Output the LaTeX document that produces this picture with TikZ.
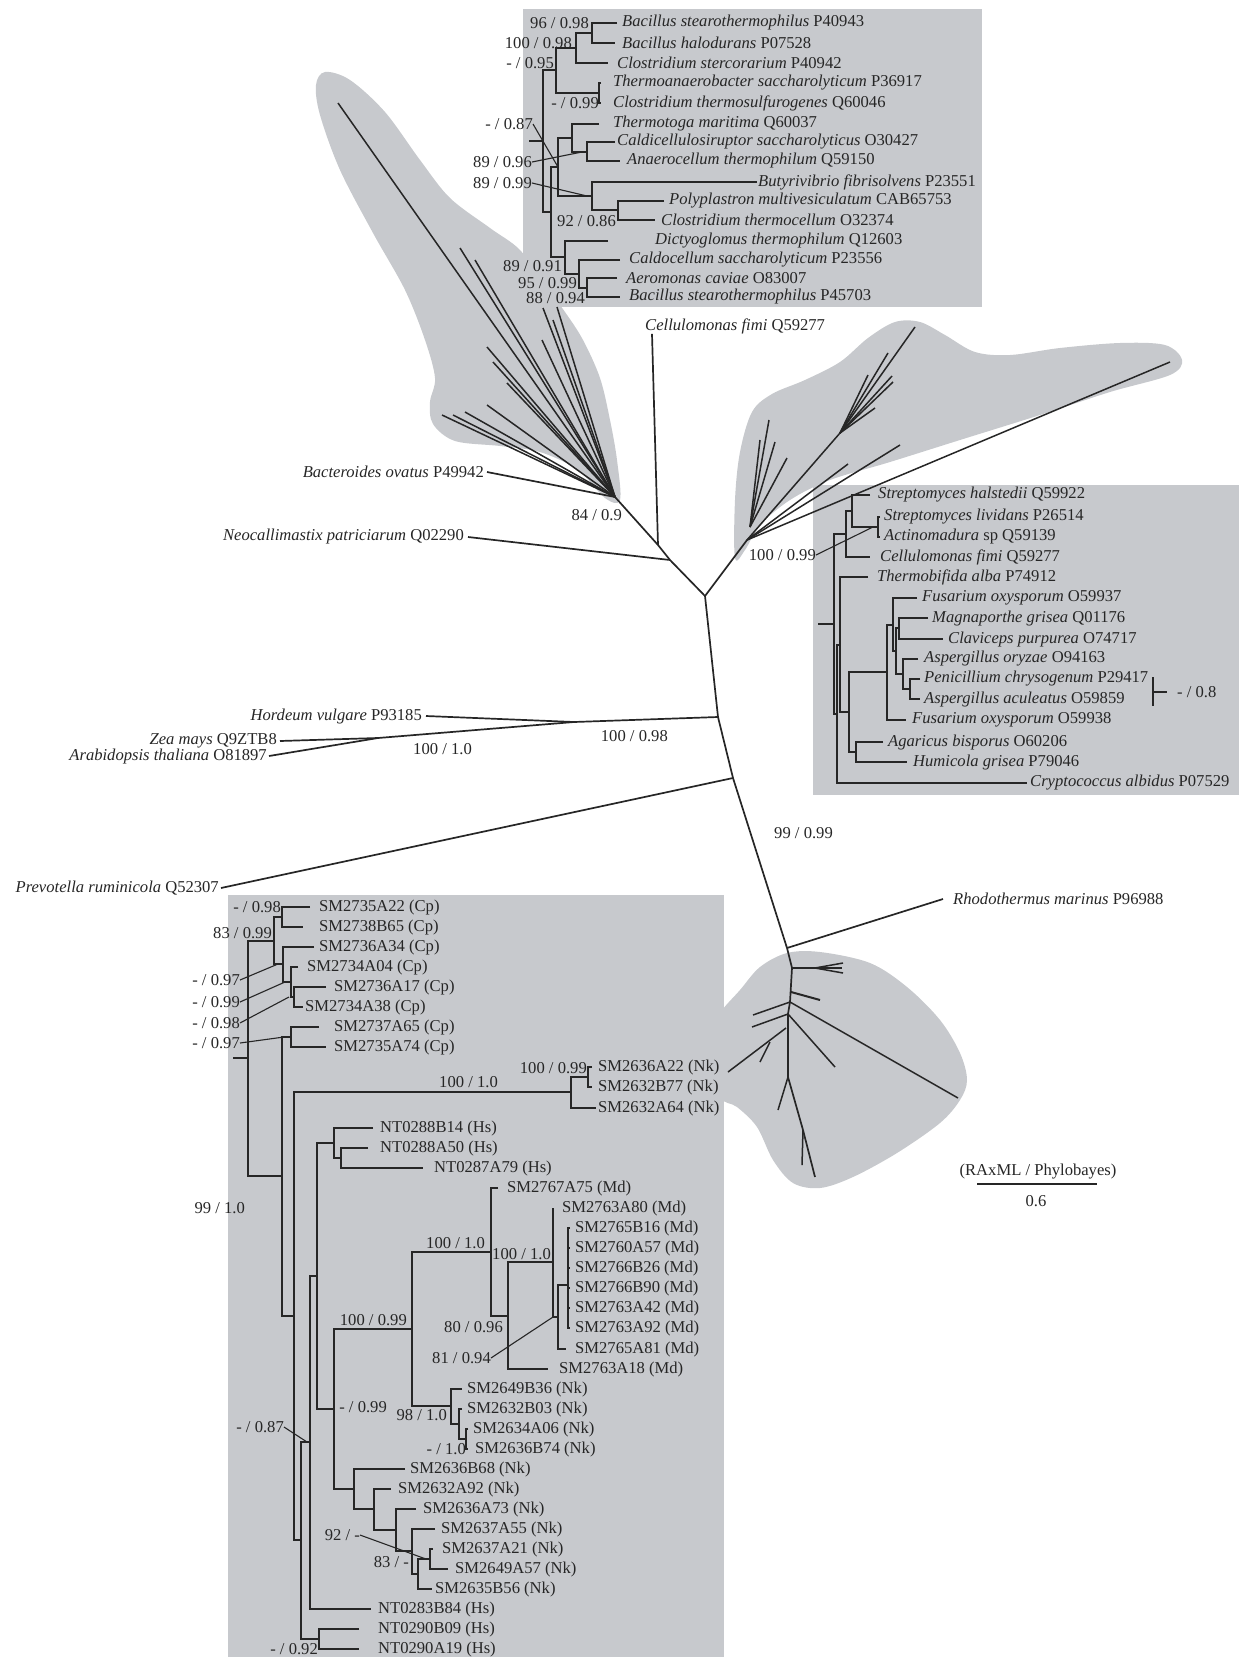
\documentclass[tikz,border=0pt]{standalone}
\usepackage{fontspec}
\setmainfont{Liberation Serif}
\definecolor{blob}{RGB}{199,201,205}
\definecolor{ink}{RGB}{38,38,38}
\newcommand{\taxon}[2]{\textit{#1} #2}
\begin{document}
\begin{tikzpicture}[x=1pt, y=-1pt,
  tax/.style={anchor=west, inner sep=0pt, text=ink, font=\fontsize{16.6}{18}\selectfont},
  bs/.style={anchor=east, inner sep=0pt, text=ink, font=\fontsize{16.6}{18}\selectfont},
  br/.style={draw=ink, line width=1.7pt},
  tr/.style={draw=ink, line width=1.3pt},
  ptr/.style={draw=ink, line width=1.1pt}
]
\useasboundingbox (0,0) rectangle (1239,1657);
% shaded clades
\fill[blob] plot[smooth cycle, tension=0.55] coordinates {(325,72) (350,80) (385,112) (420,160) (450,198) (490,228) (520,250) (545,285) (565,312) (583,340) (600,378) (610,420) (617,460) (620,500) (605,498) (578,470) (540,452) (500,446) (455,441) (433,424) (430,402) (435,378) (425,340) (405,290) (373,233) (340,170) (320,115) (316,85)};
\fill[blob] plot[smooth cycle, tension=0.55] coordinates {(735,558) (735,500) (740,452) (752,412) (772,394) (805,380) (840,362) (868,338) (895,322) (920,322) (945,335) (975,352) (1010,355) (1060,348) (1120,343) (1165,345) (1182,360) (1170,375) (1110,392) (1040,415) (960,440) (890,462) (830,480) (790,500) (760,525) (745,550)};
\fill[blob] plot[smooth cycle, tension=0.55] coordinates {(716,1030) (720,1013) (740,990) (760,967) (787,953) (820,952) (870,963) (907,987) (940,1020) (960,1053) (967,1080) (960,1100) (940,1123) (897,1153) (853,1177) (820,1188) (793,1183) (773,1160) (757,1127) (737,1107) (720,1097) (715,1060)};
\fill[blob] (523,9) rectangle (982,307);
\fill[blob] (813,485) rectangle (1239,795);
\fill[blob] (228,895) rectangle (724,1657);

% main tree
\coordinate (mfan) at (615,497);
\coordinate (mcel) at (658,545);
\coordinate (mneo) at (670,560);
\coordinate (mv) at (705,596);
\coordinate (mrf) at (747,540);
\coordinate (mhor) at (718,717);
\coordinate (mpre) at (733,778);
\coordinate (mrho) at (787,948);
\coordinate (mpla) at (574,722);
\coordinate (mzea) at (378,738);
\coordinate (mb1) at (792,968);
\coordinate (mb2) at (790,1002);
\coordinate (mb3) at (788,1014);
\coordinate (mb4) at (788,1077);
\coordinate (mb5) at (803,1130);
\coordinate (mb6) at (815,1177);
\draw[br] (mfan) -- (mcel) -- (mneo) -- (mv) -- (mrf);
\draw[br] (mv) -- (mhor) -- (mpre) -- (mrho) -- (mb1) -- (mb2) -- (mb3) -- (mb4) -- (mb5) -- (mb6);
\node[tax, anchor=east] (bov) at (484,472) {\taxon{Bacteroides ovatus}{P49942}};
\node[tax, anchor=east] (neo) at (464,537) {\taxon{Neocallimastix patriciarum}{Q02290}};
\node[tax, anchor=east] (hor) at (422,716) {\taxon{Hordeum vulgare}{P93185}};
\node[tax, anchor=east] (zea) at (277,741) {\taxon{Zea mays}{Q9ZTB8}};
\node[tax, anchor=east] (ara) at (267,756) {\taxon{Arabidopsis thaliana}{O81897}};
\node[tax, anchor=east] (pre) at (219,888) {\taxon{Prevotella ruminicola}{Q52307}};
\node[tax] (rho) at (953,899) {\taxon{Rhodothermus marinus}{P96988}};
\node[tax] (cfm) at (645,326) {\taxon{Cellulomonas fimi}{Q59277}};
\draw[br] ([xshift=3]bov.east) -- (mfan);
\draw[br] ([xshift=4]neo.east) -- (mneo);
\draw[br] ([xshift=4]hor.east) -- (mpla) -- (mhor);
\draw[br] ([xshift=3]zea.east) -- (mzea) -- (mpla);
\draw[br] ([xshift=2]ara.east) -- (mzea);
\draw[br] ([xshift=2]pre.east) -- (mpre);
\draw[br] (mrho) -- ([xshift=-10]rho.west);
\draw[br] (mcel) -- ([xshift=7]cfm.south west);
% collapsed fans
\foreach \px/\py in {338/103, 460/248, 475/260, 543/308, 557/307, 553/320, 542/340, 487/347, 493/362, 507/383, 487/405, 465/412, 453/415, 442/415}
  \draw[br, line width=1.5pt] (mfan) -- (\px,\py);
\draw[br, line width=1.5pt] (mrf) -- (1170,362);
\draw[br, line width=1.5pt] (mrf) -- (900,445);
\draw[br, line width=1.5pt] (mrf) -- (848,464);
\draw[br, line width=1.5pt] (mrf) -- (840,433) -- (915,327);
\foreach \px/\py in {875/408, 893/382, 892/376, 888/353, 868/375}
  \draw[br, line width=1.5pt] (840,433) -- (\px,\py);
\foreach \px/\py in {769/420, 760/440, 775/442, 787/458}
  \draw[br, line width=1.5pt] (750,527) -- (\px,\py);
\draw[br, line width=1.5pt] (mb1) -- (842,968);
\draw[br, line width=1.5pt] (815,968) -- (843,963);
\draw[br, line width=1.5pt] (815,968) -- (843,973);
\draw[br, line width=2pt] (791,992) -- (820,1000);
\draw[br, line width=1.5pt] (mb2) -- (753,1015);
\draw[br, line width=1.5pt] (mb3) -- (752,1027);
\draw[br, line width=1.5pt] (mb2) -- (958,1098);
\draw[br, line width=1.5pt] (mb3) -- (835,1067);
\draw[br, line width=1.5pt] (786,1028) -- (728,1072);
\draw[br, line width=1.5pt] (770,1042) -- (760,1062);
\draw[br, line width=1.5pt] (mb4) -- (778,1110);
\draw[br, line width=1.5pt] (mb5) -- (802,1165);

% leaves: name/x/y/gap/text
\foreach \nm/\xx/\yy/\gp/\lbl in {L1/622/23/5/{\taxon{Bacillus stearothermophilus}{P40943}},
  L2/622/43/7/{\taxon{Bacillus halodurans}{P07528}},
  L3/617/63/9/{\taxon{Clostridium stercorarium}{P40942}},
  L4/613/83/12/{\taxon{Thermoanaerobacter saccharolyticum}{P36917}},
  L5/613/103/12/{\taxon{Clostridium thermosulfurogenes}{Q60046}},
  L6/613/124/14/{\taxon{Thermotoga maritima}{Q60037}},
  L7/617/142/2/{\taxon{Caldicellulosiruptor saccharolyticus}{O30427}},
  L8/627/161/7/{\taxon{Anaerocellum thermophilum}{Q59150}},
  L9/758/182/1/{\taxon{Butyrivibrio fibrisolvens}{P23551}},
  L10/669/201/5/{\taxon{Polyplastron multivesiculatum}{CAB65753}},
  L11/661/220/6/{\taxon{Clostridium thermocellum}{O32374}},
  L12/655/241/47/{\taxon{Dictyoglomus thermophilum}{Q12603}},
  L13/629/260/9/{\taxon{Caldocellum saccharolyticum}{P23556}},
  L14/626/278/9/{\taxon{Aeromonas caviae}{O83007}},
  L15/629/297/9/{\taxon{Bacillus stearothermophilus}{P45703}},
  R1/878/495/8/{\taxon{Streptomyces halstedii}{Q59922}},
  R2/884/517/4/{\taxon{Streptomyces lividans}{P26514}},
  R3/884/537/4/{\taxon{Actinomadura}{sp Q59139}},
  R4/880/557/10/{\taxon{Cellulomonas fimi}{Q59277}},
  R5/877/577/9/{\taxon{Thermobifida alba}{P74912}},
  R6/922/598/5/{\taxon{Fusarium oxysporum}{O59937}},
  R7/932/618/4/{\taxon{Magnaporthe grisea}{Q01176}},
  R8/948/639/5/{\taxon{Claviceps purpurea}{O74717}},
  R9/924/659/6/{\taxon{Aspergillus oryzae}{O94163}},
  R10/924/679/4/{\taxon{Penicillium chrysogenum}{P29417}},
  R11/924/699/4/{\taxon{Aspergillus aculeatus}{O59859}},
  R12/912/720/6/{\taxon{Fusarium oxysporum}{O59938}},
  R13/888/742/5/{\taxon{Agaricus bisporus}{O60206}},
  R14/913/762/6/{\taxon{Humicola grisea}{P79046}},
  R15/1030/783/3/{\taxon{Cryptococcus albidus}{P07529}},
  S1/319/907/9/{SM2735A22 (Cp)}, S2/319/927/16/{SM2738B65 (Cp)},
  S3/319/947/5/{SM2736A34 (Cp)}, S4/307/967/9/{SM2734A04 (Cp)},
  S5/334/987/8/{SM2736A17 (Cp)}, S6/305/1007/2/{SM2734A38 (Cp)},
  S7/334/1027/15/{SM2737A65 (Cp)}, S8/334/1047/8/{SM2735A74 (Cp)},
  S9/598/1067/6/{SM2636A22 (Nk)}, S10/598/1087/6/{SM2632B77 (Nk)},
  S11/598/1108/2/{SM2632A64 (Nk)}, S12/380/1128/7/{NT0288B14 (Hs)},
  S13/380/1148/12/{NT0288A50 (Hs)}, S14/434/1168/11/{NT0287A79 (Hs)},
  S15/507/1188/9/{SM2767A75 (Md)}, S16/562/1208/9/{SM2763A80 (Md)},
  S17/575/1228/5/{SM2765B16 (Md)}, S18/575/1248/5/{SM2760A57 (Md)},
  S19/575/1268/5/{SM2766B26 (Md)}, S20/575/1288/5/{SM2766B90 (Md)},
  S21/575/1308/5/{SM2763A42 (Md)}, S22/575/1328/5/{SM2763A92 (Md)},
  S23/575/1349/9/{SM2765A81 (Md)}, S24/559/1369/11/{SM2763A18 (Md)},
  S25/467/1389/5/{SM2649B36 (Nk)}, S26/467/1409/5/{SM2632B03 (Nk)},
  S27/473/1429/5/{SM2634A06 (Nk)}, S28/475/1449/7/{SM2636B74 (Nk)},
  S29/410/1469/5/{SM2636B68 (Nk)}, S30/398/1489/7/{SM2632A92 (Nk)},
  S31/423/1509/7/{SM2636A73 (Nk)}, S32/441/1529/6/{SM2637A55 (Nk)},
  S33/442/1549/9/{SM2637A21 (Nk)}, S34/455/1569/7/{SM2649A57 (Nk)},
  S35/435/1589/3/{SM2635B56 (Nk)}, S36/378/1609/7/{NT0283B84 (Hs)},
  S37/378/1629/19/{NT0290B09 (Hs)}, S38/378/1649/19/{NT0290A19 (Hs)}}{
  \node[tax] (\nm) at (\xx,\yy) {\lbl};
  \coordinate (\nm-t) at ({\xx-\gp},\yy);
}

% top box clades
\coordinate (a0) at (529,141);
\coordinate (a1) at (592,33);
\coordinate (a2) at (576,48);
\coordinate (a3) at (599,93);
\coordinate (a4) at (556,70);
\coordinate (a5) at (587,152);
\coordinate (a6) at (572,138);
\coordinate (a7) at (618,210);
\coordinate (a8) at (592,196);
\coordinate (a9) at (558,167);
\coordinate (a10) at (587,288);
\coordinate (a11) at (579,274);
\coordinate (a12) at (565,257);
\coordinate (a13) at (551,212);
\coordinate (a14) at (543,141);
\draw[tr] (L1-t) -| (a1) |- (L2-t);
\draw[tr] (a1) -| (a2) |- (L3-t);
\draw[tr] (L4-t) -| (a3) |- (L5-t);
\draw[tr] (a2) -| (a4) |- (a3);
\draw[tr] (L7-t) -| (a5) |- (L8-t);
\draw[tr] (L6-t) -| (a6) |- (a5);
\draw[tr] (L10-t) -| (a7) |- (L11-t);
\draw[tr] (L9-t) -| (a8) |- (a7);
\draw[tr] (a6) -| (a9) |- (a8);
\draw[tr] (L14-t) -| (a10) |- (L15-t);
\draw[tr] (L13-t) -| (a11) |- (a10);
\draw[tr] (L12-t) -| (a12) |- (a11);
\draw[tr] (a9) -| (a13) |- (a12);
\draw[tr] (a4) -| (a14) |- (a13);
\draw[tr] (a0) -- (a14);

% right box clades
\coordinate (q0) at (818,624);
\coordinate (qA) at (878,527);
\coordinate (qB) at (852,511);
\coordinate (qC) at (846,534);
\coordinate (qD) at (834,624);
\coordinate (qE) at (837,714);
\coordinate (qF) at (840,645);
\coordinate (qG) at (849,712);
\coordinate (qH) at (887,672);
\coordinate (qI) at (856,752);
\coordinate (qJ) at (893,625);
\coordinate (qK) at (896,651);
\coordinate (qL) at (899,628);
\coordinate (qM) at (903,674);
\coordinate (qN) at (910,689);
\draw[tr] (R2-t) -| (qA) |- (R3-t);
\draw[tr] (R1-t) -| (qB) |- (qA);
\draw[tr] (qB) -| (qC) |- (R4-t);
\draw[tr] (R7-t) -| (qL) |- (R8-t);
\draw[tr] (R10-t) -| (qN) |- (R11-t);
\draw[tr] (R9-t) -| (qM) |- (qN);
\draw[tr] (qL) -| (qK) |- (qM);
\draw[tr] (R6-t) -| (qJ) |- (qK);
\draw[tr] (qJ) -| (qH) |- (R12-t);
\draw[tr] (R13-t) -| (qI) |- (R14-t);
\draw[tr] (qH) -| (qG) |- (qI);
\draw[tr] (R5-t) -| (qF) |- (qG);
\draw[tr] (qF) -| (qE) |- (R15-t);
\draw[tr] (qC) -| (qD) |- (qE);
\draw[tr] (q0) -- (qD);

% SM box clades
\coordinate (s0) at (233,1058);
\coordinate (sa) at (282,917);
\coordinate (sb) at (274,941);
\coordinate (sc) at (283,964);
\coordinate (sd) at (291,982);
\coordinate (se) at (294,997);
\coordinate (sf) at (291,1037);
\coordinate (sg) at (282,1176);
\coordinate (sh) at (248,1058);
\coordinate (si) at (294,1316);
\coordinate (sj) at (301,1540);
\coordinate (sk) at (310,1442);
\coordinate (sl) at (319,1639);
\coordinate (sm) at (317,1276);
\coordinate (sn) at (334,1409);
\coordinate (so) at (334,1143);
\coordinate (sp) at (341,1158);
\coordinate (sq) at (412,1329);
\coordinate (sr) at (491,1252);
\coordinate (ss) at (508,1316);
\coordinate (st) at (553,1262);
\coordinate (su) at (558,1317);
\coordinate (sv) at (568,1285);
\coordinate (sw) at (451,1406);
\coordinate (sx) at (459,1424);
\coordinate (sy) at (466,1439);
\coordinate (sz) at (354,1489);
\coordinate (saa) at (374,1509);
\coordinate (sab) at (396,1530);
\coordinate (sac) at (412,1551);
\coordinate (sad) at (418,1574);
\coordinate (sae) at (430,1559);
\coordinate (saf) at (571,1092);
\coordinate (sag) at (588,1077);
\draw[tr] (S1-t) -| (sa) |- (S2-t);
\draw[tr] (S5-t) -| (se) |- (S6-t);
\draw[tr] (S4-t) -| (sd) |- (se);
\draw[tr] (S3-t) -| (sc) |- (sd);
\draw[tr] (sa) -| (sb) |- (sc);
\draw[tr] (S7-t) -| (sf) |- (S8-t);
\draw[tr] (S9-t) -| (sag) |- (S10-t);
\draw[tr] (sag) -| (saf) |- (S11-t);
\draw[tr] (S13-t) -| (sp) |- (S14-t);
\draw[tr] (S12-t) -| (so) |- (sp);
\draw[tr] (S17-t) -| (sv) |- (S22-t);
\foreach \k in {18,...,21}
  \draw[tr] (sv |- S\k-t) -- (S\k-t);
\draw[tr] (sv) -| (su) |- (S23-t);
\draw[tr] (S16-t) -| (st) |- (su);
\draw[tr] (st) -| (ss) |- (S24-t);
\draw[tr] (S15-t) -| (sr) |- (ss);
\draw[tr] (S27-t) -| (sy) |- (S28-t);
\draw[tr] (S26-t) -| (sx) |- (sy);
\draw[tr] (S25-t) -| (sw) |- (sx);
\draw[tr] (sr) -| (sq) |- (sw);
\draw[tr] (S33-t) -| (sae) |- (S34-t);
\draw[tr] (sae) -| (sad) |- (S35-t);
\draw[tr] (S32-t) -| (sac) |- (sad);
\draw[tr] (S31-t) -| (sab) |- (sac);
\draw[tr] (S30-t) -| (saa) |- (sab);
\draw[tr] (S29-t) -| (sz) |- (saa);
\draw[tr] (sq) -| (sn) |- (sz);
\draw[tr] (so) -| (sm) |- (sn);
\draw[tr] (sm) -| (sk) |- (S36-t);
\draw[tr] (S37-t) -| (sl) |- (S38-t);
\draw[tr] (sk) -| (sj) |- (sl);
\draw[tr] (saf) -| (si) |- (sj);
\draw[tr] (sf) -| (sg) |- (si);
\draw[tr] (sb) -| (sh) |- (sg);
\draw[tr] (s0) -- (sh);

% support values (RAxML / Phylobayes)
\foreach \nm/\xx/\yy/\lbl in {k1/589/23/{96 / 0.98}, k2/572/43/{100 / 0.98}, k3/554/63/{- / 0.95},
  k4/599/103/{- / 0.99}, k5/533/124/{- / 0.87}, k6/532/162/{89 / 0.96},
  k7/532/183/{89 / 0.99}, k8/616/221/{92 / 0.86}, k9/562/266/{89 / 0.91},
  k10/577/283/{95 / 0.99}, k11/585/298/{88 / 0.94}, k12/816/555/{100 / 0.99},
  k13/281/907/{- / 0.98}, k14/272/933/{83 / 0.99}, k15/240/980/{- / 0.97},
  k16/240/1002/{- / 0.99}, k17/240/1023/{- / 0.98}, k18/240/1043/{- / 0.97},
  k19/245/1208/{99 / 1.0}, k20/284/1427/{- / 0.87}, k21/587/1068/{100 / 0.99},
  k22/498/1082/{100 / 1.0}, k23/407/1320/{100 / 0.99}, k24/485/1243/{100 / 1.0},
  k25/551/1254/{100 / 1.0}, k26/503/1327/{80 / 0.96}, k27/491/1358/{81 / 0.94},
  k28/387/1407/{- / 0.99}, k29/447/1415/{98 / 1.0}, k30/466/1449/{- / 1.0},
  k31/360/1535/{92 / -}, k32/409/1562/{83 / -}, k33/318/1649/{- / 0.92},
  k34/622/515/{84 / 0.9}, k35/668/736/{100 / 0.98}, k36/472/749/{100 / 1.0},
  k37/833/833/{99 / 0.99}}
  \node[bs] (\nm) at (\xx,\yy) {\lbl};
\draw[ptr] (k5.east) -- (a9);
\draw[ptr] (k6.east) -- ([xshift=-5]a5);
\draw[ptr] (k7.east) -- ([xshift=-5]a8);
\draw[ptr] (k12.east) -- ([xshift=-5]qA);
\draw[ptr] (k15.east) -- ([xshift=-5]sc);
\draw[ptr] (k16.east) -- ([xshift=-6]sd);
\draw[ptr] (k17.east) -- ([xshift=-5]se);
\draw[ptr] (k18.east) -- ([xshift=-7]sf);
\draw[ptr] (k20.east) -- ([xshift=-3]sk);
\draw[ptr] (k27.east) -- ([xshift=-5]su);
\draw[ptr] (k31.east) -- ([xshift=-4]sae);
% bracket - / 0.8
\coordinate (qbk) at (1153,692);
\node[bs, anchor=west] (k38) at (1177,692) {- / 0.8};
\draw[tr] ([yshift=15]qbk) -- ([yshift=-14]qbk);
\draw[tr] (qbk) -- ([xshift=-10]k38.west);
% scale
\node[bs, anchor=center] (k39) at (1038,1172) {(RAxML / Phylobayes)};
\node[bs, anchor=center] (k40) at (1036,1201) {0.6};
\coordinate (bar1) at (977,1184);
\coordinate (bar2) at (1097,1184);
\draw[br, line width=2pt] (bar1) -- (bar2);
\end{tikzpicture}
\end{document}
